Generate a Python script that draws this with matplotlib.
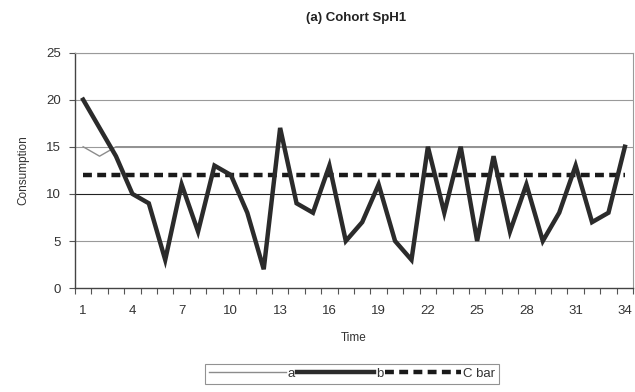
import matplotlib
matplotlib.use("Agg")
import matplotlib.pyplot as plt
import numpy as np
from matplotlib.ticker import FixedLocator

plt.rcParams['font.family'] = ['Liberation Sans', 'DejaVu Sans']

time = list(range(1, 35))
series_a = [15, 14, 15] + [15] * 31
series_b = [20, 17, 14, 10, 9, 3, 11, 6, 13, 12, 8, 2, 17, 9, 8, 13, 5, 7,
            11, 5, 3, 15, 8, 15, 5, 14, 6, 11, 5, 8, 13, 7, 8, 15]
c_bar = [12] * 34
x_labels = [1, 4, 7, 10, 13, 16, 19, 22, 25, 28, 31, 34]
y_ticks = [0, 5, 10, 15, 20, 25]

fig = plt.figure(figsize=(6.35, 3.92), dpi=100)
ax = fig.add_axes([0.118, 0.265, 0.879, 0.601])

for y in y_ticks[1:]:
    ax.axhline(y, color='#222222' if y == 10 else '#9a9a9a', lw=0.8, zorder=1)

ax.plot(time, series_a, color='#8c8c8c', lw=1.0, label='a', zorder=2)
ax.plot(time, series_b, color='#2b2b2b', lw=3.2, label='b', zorder=4,
        solid_joinstyle='miter')
ax.plot(time, c_bar, color='#1a1a1a', lw=3.2, ls=(0, (2.0, 1.2)),
        label='C bar', zorder=3)

ax.set_xlim(0.5, 34.5)
ax.set_ylim(0, 25)
ax.xaxis.set_major_locator(FixedLocator(x_labels))
ax.xaxis.set_minor_locator(FixedLocator(np.arange(0.5, 35, 1)))
ax.set_xticklabels([str(v) for v in x_labels])
ax.tick_params(axis='x', which='major', length=0, pad=12, labelsize=9.5,
               labelcolor='#333333')
ax.tick_params(axis='x', which='minor', length=4, color='#555555', width=0.8)
ax.set_yticks(y_ticks)
ax.tick_params(axis='y', length=4, color='#555555', width=0.8, labelsize=9.5,
               labelcolor='#333333', pad=6)

for side in ['top', 'right']:
    ax.spines[side].set_color('#9a9a9a')
    ax.spines[side].set_linewidth(0.8)
for side in ['left', 'bottom']:
    ax.spines[side].set_color('#444444')
    ax.spines[side].set_linewidth(1.0)

ax.set_xlabel('Time', fontsize=8.5, color='#333333', labelpad=11)
ax.set_ylabel('Consumption', fontsize=8.5, color='#333333', labelpad=12)
fig.text(0.56, 0.955, '(a) Cohort SpH1', ha='center', va='center',
         fontsize=9.5, fontweight='bold', color='#222222')

leg = fig.legend(loc='center', bbox_to_anchor=(0.555, 0.046), ncol=3,
                 fontsize=9.5, frameon=True, fancybox=False,
                 handlelength=5.8, handletextpad=0.15, columnspacing=0.15,
                 borderpad=0.3, edgecolor='#777777')
leg.get_frame().set_linewidth(0.8)
for t in leg.get_texts():
    t.set_color('#333333')

fig.savefig('out.png', dpi=100)
